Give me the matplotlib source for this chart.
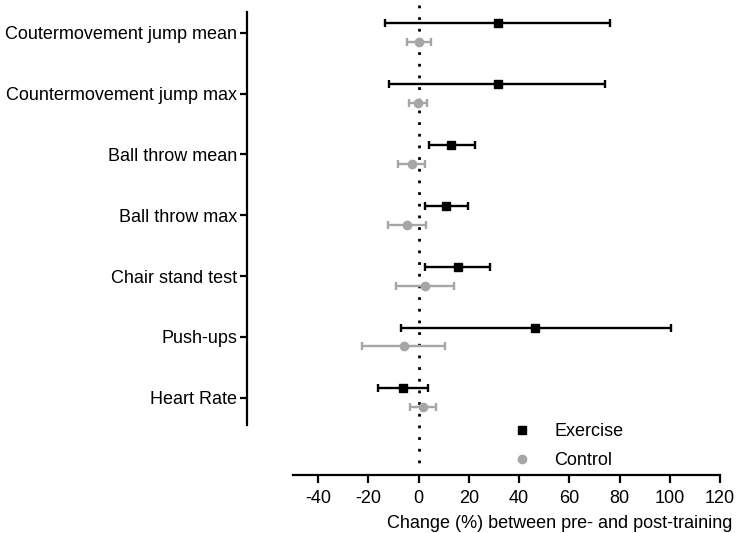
import matplotlib
matplotlib.use('Agg')
import matplotlib.pyplot as plt
from matplotlib.lines import Line2D
import numpy as np

plt.rcParams['font.family'] = ['Liberation Sans', 'DejaVu Sans']

outcomes = ['Coutermovement jump mean', 'Countermovement jump max', 'Ball throw mean',
            'Ball throw max', 'Chair stand test', 'Push-ups', 'Heart Rate']

# change (%) with lower / upper ends of the error bars
exercise_mean = [31.5, 31.5, 13.1, 10.8, 15.6, 46.5, -6.3]
exercise_low = [-13.2, -11.7, 4.0, 2.4, 2.7, -7.2, -16.0]
exercise_high = [76.2, 74.4, 22.4, 19.5, 28.3, 100.5, 3.7]

control_mean = [0.1, -0.2, -2.8, -4.7, 2.5, -6.0, 1.6]
control_low = [-4.5, -3.7, -8.1, -12.1, -8.9, -22.4, -3.3]
control_high = [4.8, 3.5, 2.6, 2.9, 14.1, 10.5, 6.8]

xticks = [-40, -20, 0, 20, 40, 60, 80, 100, 120]

fig = plt.figure(figsize=(7.36, 5.33), dpi=100)
ax = fig.add_axes([293 / 736, 58 / 533, 427 / 736, 472 / 533])

pos = np.arange(len(outcomes))
off = 0.155

ex_m = np.array(exercise_mean)
co_m = np.array(control_mean)
ex_err = [ex_m - np.array(exercise_low), np.array(exercise_high) - ex_m]
co_err = [co_m - np.array(control_low), np.array(control_high) - co_m]

ax.plot([0, 0], [-0.46, 7.15], color='black', ls=(0, (1, 3.2)), lw=2, zorder=1)

ax.errorbar(exercise_mean, pos - off, xerr=ex_err, fmt='s', color='black', ms=6,
            elinewidth=1.7, capsize=3, capthick=1.7, zorder=3)
ax.errorbar(control_mean, pos + off, xerr=co_err, fmt='o', color='#a6a6a6', ms=6,
            elinewidth=1.7, capsize=3, capthick=1.7, zorder=2)

ax.set_xlim(-50, 120)
ax.set_ylim(7.27, -0.49)
ax.set_xticks(xticks)
ax.set_xticklabels([str(t) for t in xticks])
ax.set_yticks(pos)
ax.set_yticklabels(outcomes)

for s in ['top', 'right']:
    ax.spines[s].set_visible(False)
ax.spines['left'].set_position(('axes', -46 / 427))
ax.spines['left'].set_bounds(-0.35, 6.45)
ax.spines['left'].set_linewidth(1.6)
ax.spines['bottom'].set_linewidth(1.6)

ax.tick_params(axis='both', labelsize=13, width=1.6, color='black')
ax.tick_params(axis='y', length=5, pad=2)
ax.tick_params(axis='x', length=6, pad=5)

ax.set_xlabel('Change (%) between pre- and post-training', fontsize=13, ha='right')
ax.xaxis.set_label_coords(1 + 12 / 427, -0.085)

handles = [Line2D([], [], marker='s', color='black', ls='none', ms=6),
           Line2D([], [], marker='o', color='#a6a6a6', ls='none', ms=6)]
ax.legend(handles, ['Exercise', 'Control'], loc='upper left', frameon=False,
          bbox_to_anchor=(495 / 736, 1 - 407 / 533), bbox_transform=fig.transFigure,
          fontsize=13, handlelength=1.2, handletextpad=1.2, labelspacing=0.67)

fig.savefig('out.png', dpi=100)
